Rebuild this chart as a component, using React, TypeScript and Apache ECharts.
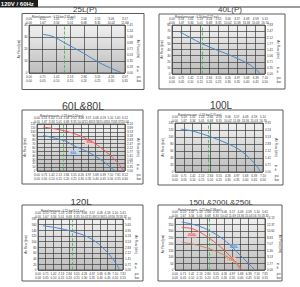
import React, { useEffect, useRef } from "react";
import * as echarts from "echarts";

const FONT = "'Liberation Sans', Arial, sans-serif";
const PSI = 14.2;
const MH2O = 10.2;
const FT = 33.4;
const CFM = 28.3;

// ---- data (x: bar, y: lpm) ----
const titles = ["25L(P)", "40L(P)", "60L&80L", "100L", "120L", "150L&200L&250L"];
const ratedBar = [0.13, 0.16, 0.18, 0.19, 0.22, 0.21];
const xMaxBar = [0.35, 0.5, 0.6, 0.5, 0.55, 0.55];
const yMaxLpm = [40, 80, 120, 140, 180, 400];
const yStepLpm = [10, 10, 10, 20, 20, 50];

const x25 = [0.049, 0.088, 0.128, 0.198, 0.259, 0.334];
const y25 = [32.3, 30.3, 25.4, 16.6, 8.3, 0.5];

const x40 = [0.041, 0.164, 0.241, 0.33, 0.42, 0.473];
const y40 = [69.1, 49, 39.2, 28.3, 14.7, 1.1];

const x80 = [0.041, 0.204, 0.351, 0.475, 0.543, 0.593];
const y80 = [112.3, 101.1, 79.7, 48, 24, 0];
const x60 = [0.041, 0.204, 0.238, 0.351, 0.453, 0.532];
const y60 = [90.9, 75.4, 67, 48, 24, 0];
const tag80: [number, number] = [0.36, 73];
const tag60: [number, number] = [0.25, 47];

const x100 = [0.034, 0.108, 0.198, 0.295, 0.369, 0.425, 0.463, 0.487];
const y100 = [122.6, 115.9, 101.4, 82.1, 62.8, 38.6, 17.4, 0];

const x120 = [0.032, 0.119, 0.222, 0.324, 0.399, 0.464, 0.507, 0.528];
const y120 = [156, 149, 136, 116, 89, 53, 21, 0];

const x250 = [0.041, 0.153, 0.255, 0.336, 0.397, 0.458, 0.489];
const y250 = [369, 335, 271, 194, 116, 39, 0];
const x200 = [0.041, 0.112, 0.194, 0.275, 0.336, 0.387, 0.407];
const y200 = [328, 315, 258, 181, 108, 39, 0];
const x150 = [0.041, 0.153, 0.255, 0.336, 0.377, 0.397];
const y150 = [214, 186, 142, 90, 46, 0];
const tag200: [number, number] = [0.105, 268];
const tag250: [number, number] = [0.36, 178];
const tag150: [number, number] = [0.34, 80];

// ---- layout (pixels) ----
const boxes = [
  [22, 13.5, 122, 76],
  [159, 14, 126, 75],
  [22, 110, 121, 74],
  [158, 110, 125, 75],
  [22, 205, 121, 76],
  [158, 205, 124, 76],
];
const plots = [
  [29, 25, 96, 48],
  [172, 25, 93, 49],
  [37, 124, 88, 47],
  [175, 123, 88, 49],
  [38, 219, 85, 51],
  [175, 218, 90, 52],
];
const titlePos = [
  [85, 9.3, 8],
  [230, 9.3, 8],
  [83, 105.5, 10.5],
  [221, 105.5, 10],
  [81, 201.5, 9.5],
  [221, 202, 8],
];

const BLUE = "#4a86c8";
const RED = "#e25c5c";
const BROWN = "#c98a5e";

type Curve = { name: string; xs: number[]; ys: number[]; color: string; tag?: [number, number]; tagBg?: string };

const curves: Curve[][] = [
  [{ name: "25L", xs: x25, ys: y25, color: BLUE }],
  [{ name: "40L", xs: x40, ys: y40, color: BLUE }],
  [
    { name: "80L", xs: x80, ys: y80, color: RED, tag: tag80, tagBg: "#f6c9c4" },
    { name: "60L", xs: x60, ys: y60, color: BLUE, tag: tag60, tagBg: "#c5d8ef" },
  ],
  [{ name: "100L", xs: x100, ys: y100, color: BLUE }],
  [{ name: "120L", xs: x120, ys: y120, color: BLUE }],
  [
    { name: "250L", xs: x250, ys: y250, color: BLUE, tag: tag250, tagBg: "#c5d8ef" },
    { name: "200L", xs: x200, ys: y200, color: RED, tag: tag200, tagBg: "#f6c9c4" },
    { name: "150L", xs: x150, ys: y150, color: BROWN, tag: tag150, tagBg: "#f1d5bf" },
  ],
];

function buildOption() {
  const grid: any[] = [];
  const xAxis: any[] = [];
  const yAxis: any[] = [];
  const series: any[] = [];
  const graphic: any[] = [];

  const lblStyle = { fontSize: 3, lineHeight: 3.6, color: "#333", fontFamily: FONT };

  graphic.push({ type: "rect", z: 1, shape: { x: 0, y: 0, width: 38, height: 7.5 }, style: { fill: "#1c1c1c" } });
  graphic.push({
    type: "text", z: 2, x: 0.8, y: 4,
    style: { text: "120V / 60Hz", fill: "#fff", fontSize: 6, fontWeight: "bold", fontFamily: FONT, verticalAlign: "middle" },
  });
  graphic.push({ type: "line", z: 1, shape: { x1: 38, y1: 7, x2: 300, y2: 7 }, style: { stroke: "#3a3a3a", lineWidth: 1.2 } });

  titles.forEach((title, i) => {
    const [bl, bt, bw, bh] = boxes[i];
    const [pl, pt, pw, ph] = plots[i];
    graphic.push({ type: "rect", z: 0, shape: { x: bl, y: bt, width: bw, height: bh }, style: { fill: "none", stroke: "#5a5a5a", lineWidth: 1 } });
    graphic.push({
      type: "text", z: 3, x: titlePos[i][0], y: titlePos[i][1],
      style: { text: title, fill: "#3a3a3a", fontSize: titlePos[i][2], fontFamily: FONT, align: "center", verticalAlign: "middle" },
    });
    const r = ratedBar[i];
    graphic.push({
      type: "text", z: 3, x: pl + 3, y: pt - 8.6,
      style: { text: `Rated pressure : ${r.toFixed(2)} bar(${(r * PSI).toFixed(2)} psi)`, fill: "#333", fontSize: 2.8, fontFamily: FONT, verticalAlign: "middle" },
    });

    grid.push({
      left: pl, top: pt, width: pw, height: ph, show: true,
      borderColor: "#3c3c3c", borderWidth: 0.8,
      backgroundColor: new echarts.graphic.LinearGradient(0, 0, 0, 1, [
        { offset: 0, color: "#f1f1f1" },
        { offset: 1, color: "#bdbdbd" },
      ]),
    });
    const xm = xMaxBar[i];
    xAxis.push({
      type: "value", gridIndex: i, position: "bottom", min: 0, max: xm, interval: 0.05,
      axisLine: { show: false }, axisTick: { show: false },
      splitLine: { show: true, lineStyle: { color: "#3c3c3c", width: 0.7 } },
      axisLabel: { ...lblStyle, margin: 2, formatter: (v: number) => `${(v * PSI).toFixed(2)}\n${v.toFixed(2)}` },
      name: "psi\nbar", nameLocation: "end", nameGap: 3,
      nameTextStyle: { ...lblStyle, verticalAlign: "top", align: "left", padding: [2, 0, 0, 0] },
    });
    xAxis.push({
      type: "value", gridIndex: i, position: "top", min: 0, max: xm, interval: 0.05,
      axisLine: { show: false }, axisTick: { show: false }, splitLine: { show: false },
      axisLabel: { ...lblStyle, margin: 1, formatter: (v: number) => `${(v * MH2O).toFixed(2)}\n${(v * FT).toFixed(2)}` },
      name: "m\nft", nameLocation: "end", nameGap: 1,
      nameTextStyle: { ...lblStyle, verticalAlign: "bottom", align: "left", padding: [0, 0, 1, 0] },
    });
    const ym = yMaxLpm[i];
    const ys = yStepLpm[i];
    yAxis.push({
      type: "value", gridIndex: i, position: "left", min: 0, max: ym, interval: ys,
      axisLine: { show: false }, axisTick: { show: false },
      splitLine: { show: true, lineStyle: { color: "#3c3c3c", width: 0.7 } },
      axisLabel: { ...lblStyle, margin: 1.5 },
      name: "Air Flow (lpm)", nameLocation: "middle", nameRotate: 90, nameGap: 6,
      nameTextStyle: { ...lblStyle },
    });
    yAxis.push({
      type: "value", gridIndex: i, position: "right", min: 0, max: ym, interval: i === 0 ? ys / 2 : ys,
      axisLine: { show: false },
      axisTick: { show: true, length: 1.2, lineStyle: { color: "#555", width: 0.5 } },
      splitLine: { show: false },
      axisLabel: { ...lblStyle, margin: 2, formatter: (v: number) => (v / CFM).toFixed(2) },
      name: "Air Flow (cfm)", nameLocation: "middle", nameRotate: -90, nameGap: 10,
      nameTextStyle: { ...lblStyle },
    });

    curves[i].forEach((c, k) => {
      const s: any = {
        type: "line", name: c.name, xAxisIndex: i * 2, yAxisIndex: i * 2,
        data: c.xs.map((x, j) => [x, c.ys[j]]),
        smooth: 0.35, symbol: "none", z: 5,
        lineStyle: { color: c.color, width: 1 },
      };
      if (k === 0) {
        s.markLine = {
          silent: true, symbol: ["none", "none"], label: { show: false },
          lineStyle: { color: "#3fb04a", type: "dashed", width: 0.8 },
          data: [{ xAxis: ratedBar[i] }],
        };
      }
      if (c.tag) {
        s.markPoint = {
          silent: true,
          data: [{
            coord: c.tag, symbol: "rect", symbolSize: [10, 4.6],
            itemStyle: { color: c.tagBg },
            label: { show: true, position: "inside", formatter: c.name, color: c.color, fontSize: 3.6, fontWeight: "bold", fontFamily: FONT },
          }],
        };
      }
      series.push(s);
    });
  });

  return { animation: false, backgroundColor: "#fff", grid, xAxis, yAxis, series, graphic };
}

export default function App() {
  const ref = useRef<HTMLDivElement>(null);
  useEffect(() => {
    const chart = echarts.init(ref.current!, undefined, { renderer: "svg" });
    chart.setOption(buildOption() as any);
    return () => chart.dispose();
  }, []);
  return (
    <div
      ref={ref}
      style={{ position: "fixed", left: 0, top: 0, width: 300, height: 287, background: "#fff" }}
    />
  );
}
